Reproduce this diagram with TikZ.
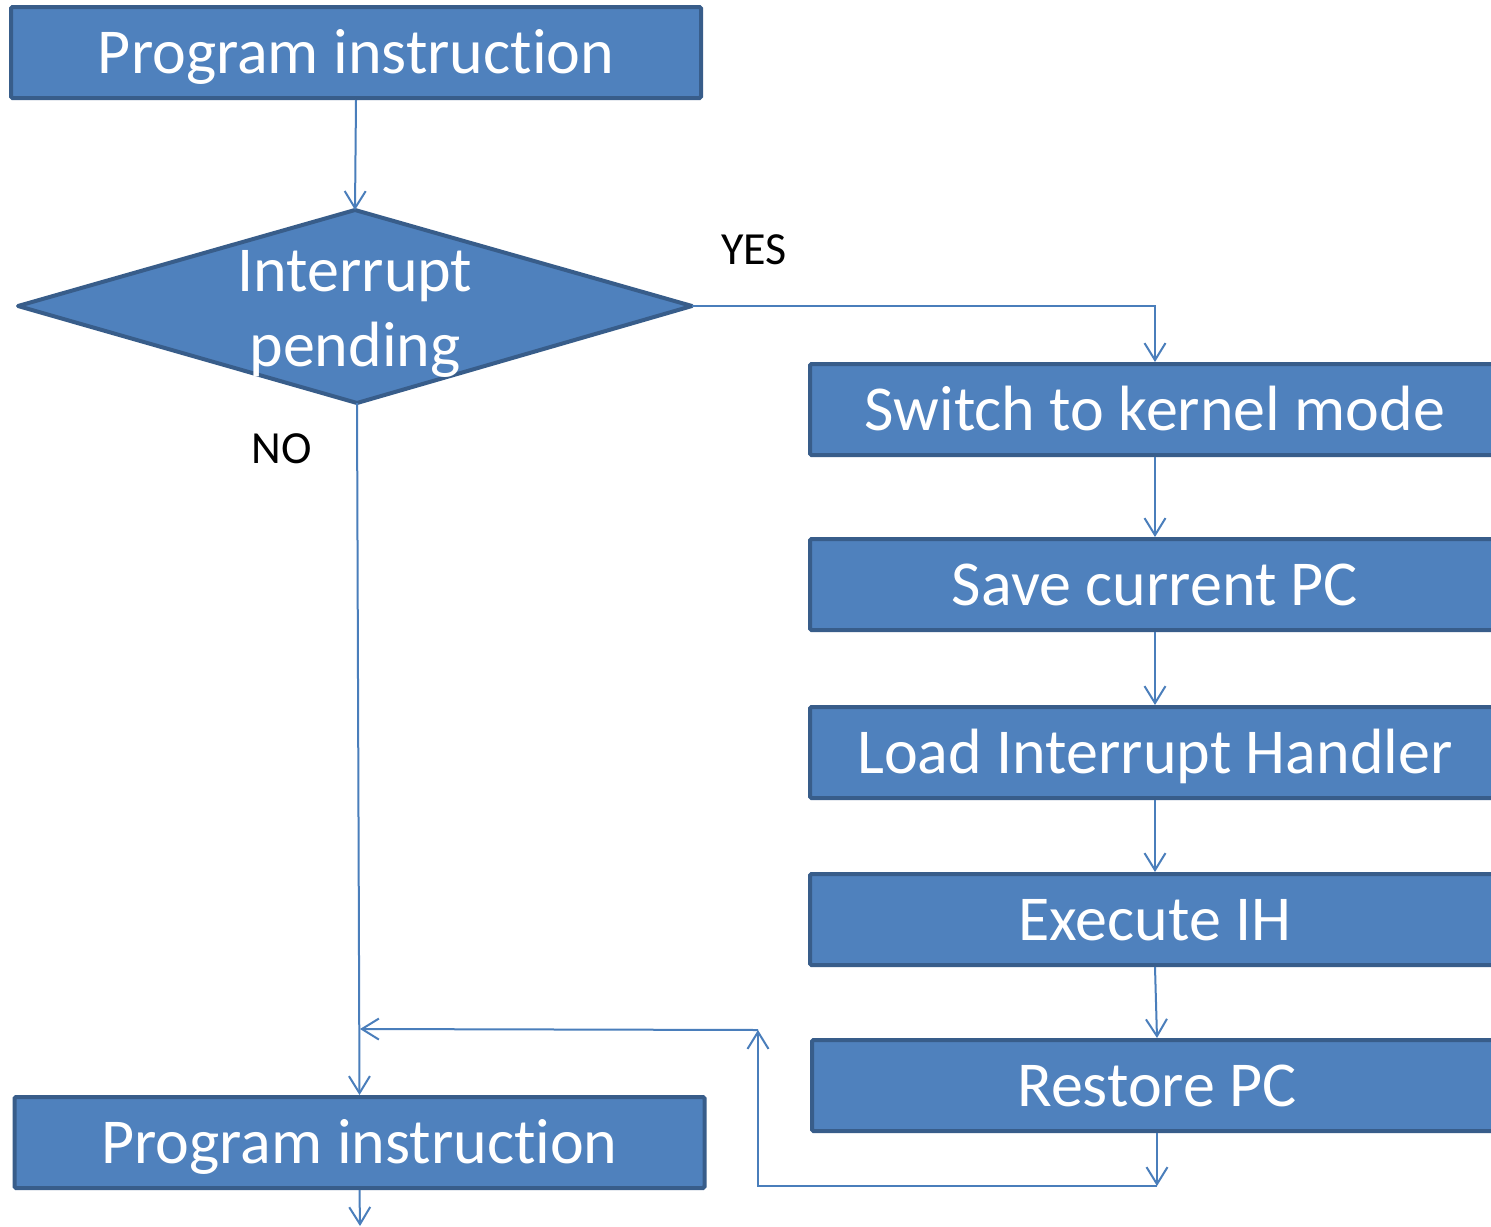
\documentclass[tikz,border=0pt]{standalone}
\usepackage{fontspec}
\setmainfont[Ligatures=NoCommon]{Carlito}
\usetikzlibrary{arrows.meta}
\definecolor{boxfill}{HTML}{4F81BD}
\definecolor{boxline}{HTML}{385D8A}
\definecolor{wire}{HTML}{4A7EBB}
\tikzset{
  stepbox/.style={rectangle, draw=boxline, fill=boxfill, line width=4pt,
    rounded corners=1.5pt, minimum width=690pt, minimum height=91pt,
    inner sep=0pt, text=white, font=\fontsize{64}{75}\selectfont,
    text height=41pt, text depth=0pt},
  wireline/.style={draw=wire, line width=2pt},
  arr/.style={wireline, -{Straight Barb[length=17pt, width=21pt, line width=2pt]}},
  tag/.style={text=black, font=\fontsize{46}{55}\selectfont, inner sep=0pt}
}
\begin{document}
\begin{tikzpicture}[x=1pt, y=-1pt]
  \clip (0,0) rectangle (1491,1226);
  \fill[white] (0,0) rectangle (1491,1226);

  % main path
  \node[stepbox] (top) at (356,52.5) {Program instruction};

  % decision diamond
  \coordinate (dtop) at (355,210);
  \coordinate (dright) at (692,306);
  \coordinate (dbot) at (357,403);
  \coordinate (dleft) at (18,306);
  \draw[draw=boxline, fill=boxfill, line width=4pt, line join=round]
    (dtop) -- (dright) -- (dbot) -- (dleft) -- cycle;
  \node[text=white, font=\fontsize{64}{75}\selectfont, align=center, inner sep=0pt]
    (dtext) at (355,314) {Interrupt\\pending};

  \node[stepbox] (bot) at (359.5,1142.5) {Program instruction};

  % interrupt handling steps
  \node[stepbox] (sw) at (1155,409.5) {Switch to kernel mode};
  \node[stepbox] (save) at (1155,584.5) {Save current PC};
  \node[stepbox] (load) at (1155,752.5) {Load Interrupt Handler};
  \node[stepbox] (exec) at (1155,919.5) {Execute IH};
  \node[stepbox] (rest) at (1157,1085.5) {Restore PC};

  % labels
  \node[tag] (yes) at (754,250) {YES};
  \node[tag] (no) at (282,449) {NO};

  % connectors
  \draw[arr] (top.south) -- (dtop);
  \draw[arr] (dright) -| (sw.north);
  \draw[arr] (dbot) -- (bot.north);
  \draw[arr] (sw.south) -- (save.north);
  \draw[arr] (save.south) -- (load.north);
  \draw[arr] (load.south) -- (exec.north);
  \draw[arr] (exec.south) -- (rest.north);

  \coordinate (r1) at (1157,1186);
  \coordinate (r2) at (758,1030);
  \coordinate (r3) at (360,1029);
  \coordinate (out) at (360,1226);
  \draw[arr] (rest.south) -- (r1);
  \draw[arr] (r1) -| (r2);
  \draw[arr] (r2) -- (r3);
  \draw[arr] (bot.south) -- (out);
\end{tikzpicture}
\end{document}
